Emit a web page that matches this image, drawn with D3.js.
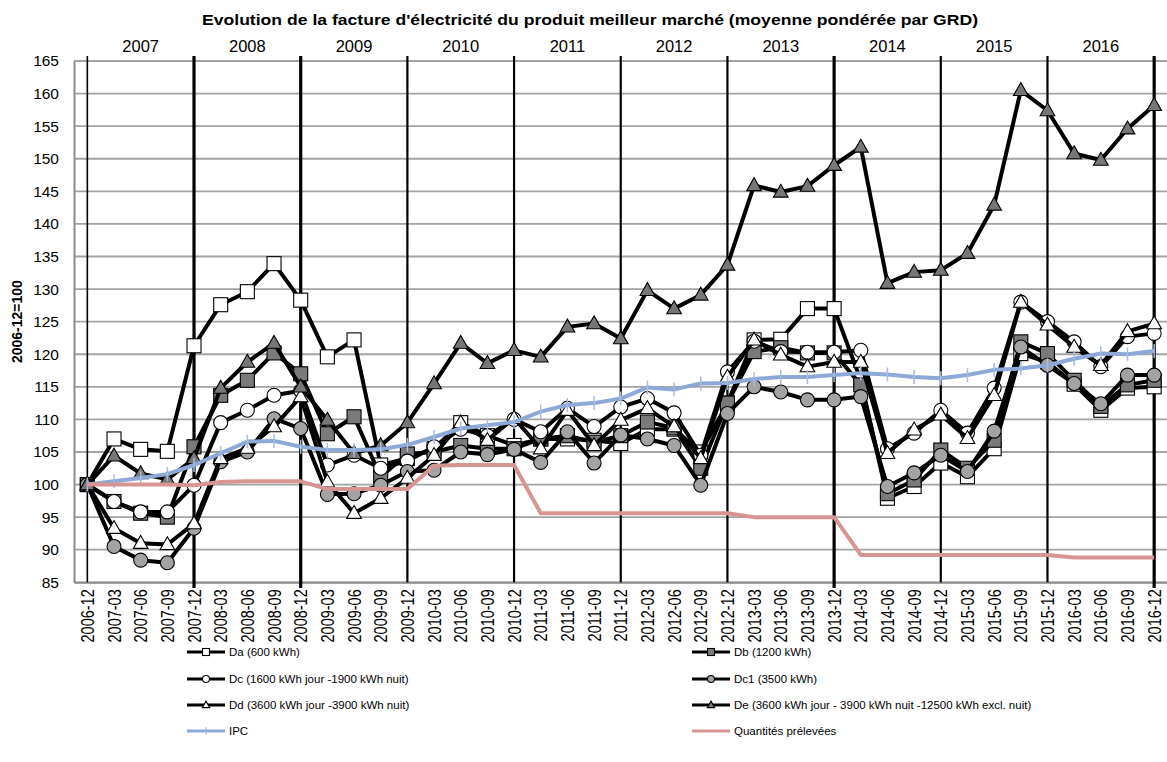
<!DOCTYPE html>
<html><head><meta charset="utf-8">
<script src="https://cdn.jsdelivr.net/npm/d3@7"></script>
<style>
html,body{margin:0;padding:0;background:#fff;}
svg{display:block;font-family:"Liberation Sans",Arial,sans-serif;}
</style></head>
<body><svg id="c" width="1167" height="762"></svg>
<script>
const categories = ["2006-12","2007-03","2007-06","2007-09","2007-12","2008-03","2008-06","2008-09","2008-12","2009-03","2009-06","2009-09","2009-12","2010-03","2010-06","2010-09","2010-12","2011-03","2011-06","2011-09","2011-12","2012-03","2012-06","2012-09","2012-12","2013-03","2013-06","2013-09","2013-12","2014-03","2014-06","2014-09","2014-12","2015-03","2015-06","2015-09","2015-12","2016-03","2016-06","2016-09","2016-12"];
const years = ["2007","2008","2009","2010","2011","2012","2013","2014","2015","2016"];
const yTicks = [85,90,95,100,105,110,115,120,125,130,135,140,145,150,155,160,165];

const Da  = [100,107,105.4,105.1,121.3,127.6,129.6,133.9,128.3,119.6,122.2,103,104,105.5,109.5,107.5,106,107,107,106.8,106.3,108.5,108.5,105,112.5,122.2,122.3,127,127,116,97.9,99.7,103.3,101.2,105.5,120.1,118.8,115.4,111.4,114.8,115];
const Db  = [100,97.4,95.6,95.0,105.8,113.7,116,120.2,117,107.8,110.4,101.2,104.7,105,106,105.5,105.5,107,107.5,106.5,107.5,109.6,108.7,102.5,112.5,120.4,121,120.2,120.2,115.3,98.6,100.7,105.3,102.5,106.8,121.9,120.1,116,112,115.3,116];
const Dc  = [100,97.4,95.8,95.8,99.9,109.5,111.4,113.7,114.4,103,104.5,102.5,103.6,105.8,108.5,107.5,110,108.1,111.7,108.9,111.9,113.2,111,104.5,117.3,122,120.4,120.3,120.3,120.6,105.5,107.9,111.4,107.9,114.8,128,125,121.9,118.1,122.7,123.2];
const Dc1 = [100,90.5,88.4,88.0,93.3,103.5,105,110.1,108.6,98.5,98.6,99.9,102,102.2,105,104.6,105.4,103.4,108.1,103.3,107.6,107,106,99.9,110.9,115,114.2,113,113,113.5,99.7,101.8,104.5,102,108.2,121.1,118.3,115.5,112.4,116.8,116.8];
const Dd  = [100,93.3,91,90.8,94,104,105.6,108.9,113.5,100.4,95.6,97.9,101,104.5,109.5,106.8,110.2,105.5,111.4,106,109.9,111.7,108.9,104,116.5,122.2,119.9,118.1,118.8,118.8,104.8,108.4,110.7,107.1,113.7,128,124.5,121.1,118.3,123.5,124.7];
const De  = [100,104.4,101.7,100.8,104,114.8,118.8,121.7,115,109.9,104.8,106,109.5,115.5,121.7,118.6,120.6,119.6,124.2,124.7,122.4,129.8,127,129.1,133.7,145.9,144.9,145.8,149,151.8,130.9,132.6,132.9,135.5,142.9,160.5,157.4,150.8,149.8,154.6,158.2];
const IPC = [100,100.5,101,101.6,103,104.8,106.6,106.7,105.8,105.3,105.3,105.4,106.1,107.3,108.6,109.1,109.6,111.2,112.2,112.5,113.2,114.9,114.6,115.5,115.6,116.2,116.5,116.5,116.8,117.1,116.9,116.5,116.3,116.8,117.6,117.8,118.3,119.3,120.1,120,120.5];
const Quant = [100,100,100,100,99.9,100.4,100.5,100.5,100.5,99.3,99.3,99.3,99.3,102.9,103,103,103,95.6,95.6,95.6,95.6,95.6,95.6,95.6,95.6,95,95,95,95,89.2,89.2,89.2,89.2,89.2,89.2,89.2,89.2,88.8,88.8,88.8,88.8];

const seriesNames = ["Da (600 kWh)","Db (1200 kWh)","Dc (1600 kWh jour -1900 kWh nuit)","Dc1 (3500 kWh)","Dd (3600 kWh jour -3900 kWh nuit)","De (3600 kWh jour - 3900 kWh nuit -12500 kWh excl. nuit)","IPC","Quantités prélevées"];

const title = "Evolution de la facture d'électricité du produit meilleur marché (moyenne pondérée par GRD)";
const yTitle = "2006-12=100";

// ---------- drawing ----------
const svg = d3.select("#c");
const L = 74, R = 1167.5, T = 61, B = 582.3;
const x = d3.scaleBand().domain(categories).range([L, R]).paddingInner(0).paddingOuter(0);
const cx = c => x(c) + x.bandwidth()/2;
const y = d3.scaleLinear().domain([85,165]).range([B, T]);

// gridlines
svg.append("g").selectAll("line").data(yTicks).join("line")
  .attr("x1", L).attr("x2", R).attr("y1", d=>y(d)).attr("y2", d=>y(d))
  .attr("stroke", "#a3a3a3").attr("stroke-width", 1.8);

// axes
const yAxis = svg.append("g").attr("transform", `translate(${L},0)`)
  .call(d3.axisLeft(y).tickValues(yTicks).tickSize(0).tickPadding(15).tickFormat(d3.format("d")));
yAxis.select(".domain").attr("stroke", "#8c8c8c").attr("stroke-width", 2);
yAxis.selectAll("text").attr("font-size", 15.5).attr("fill", "#000").attr("font-family", "Liberation Sans, Arial, sans-serif");

const xAxis = svg.append("g").attr("transform", `translate(0,${B})`)
  .call(d3.axisBottom(x).tickSize(0).tickPadding(0));
xAxis.select(".domain").attr("stroke", "#8c8c8c").attr("stroke-width", 2);
xAxis.selectAll("text")
  .attr("font-size", 14.5).attr("fill", "#000").attr("font-family", "Liberation Sans, Arial, sans-serif")
  .attr("text-anchor", "end").attr("dy", null)
  .attr("transform", "translate(6.5,7) rotate(-90) scale(1,1.22)");

// year separator lines
const decIdx = categories.map((c,i)=>i).filter(i => categories[i].endsWith("-12"));
const heavy = new Set(["2007-12","2008-12","2013-12","2016-12"]);
svg.append("g").selectAll("line").data(decIdx).join("line")
  .attr("x1", i=>cx(categories[i])).attr("x2", i=>cx(categories[i]))
  .attr("y1", 56).attr("y2", i=> heavy.has(categories[i]) ? 588 : B)
  .attr("stroke", "#000").attr("stroke-width", i => heavy.has(categories[i]) ? 3.2 : (i===0?1.6:2.2));

// year labels
svg.append("g").selectAll("text").data(years).join("text")
  .attr("x", (d,i)=>(cx(categories[i*4]) + cx(categories[i*4+4]))/2)
  .attr("y", 52).attr("text-anchor", "middle").attr("font-size", 16.5).text(d=>d);

// title
svg.append("text").attr("x", 590).attr("y", 25).attr("text-anchor","middle")
  .attr("font-size", 15).attr("font-weight","bold")
  .attr("textLength", 776).attr("lengthAdjust","spacingAndGlyphs").text(title);
svg.append("text").attr("transform", `translate(22,${(T+B)/2}) rotate(-90)`)
  .attr("text-anchor","middle").attr("font-size", 14).attr("font-weight","bold").text(yTitle);

// series
const line = d3.line().x((d,i)=>cx(categories[i])).y(d=>y(d));
const defs = [
  {v:Da,  m:"square",   fill:"#fff"},
  {v:Db,  m:"square",   fill:"#7a7a7a"},
  {v:Dc,  m:"circle",   fill:"#fff"},
  {v:Dc1, m:"circle",   fill:"#a3a3a3"},
  {v:Dd,  m:"triangle", fill:"#fff"},
  {v:De,  m:"triangle", fill:"#777777"}
];
function marker(g, type, fill, px, py, s) {
  if (type === "square") {
    g.append("rect").attr("x", px-s/2).attr("y", py-s/2).attr("width", s).attr("height", s)
      .attr("fill", fill).attr("stroke", "#000").attr("stroke-width", 1.1);
  } else if (type === "circle") {
    g.append("circle").attr("cx", px).attr("cy", py).attr("r", s/2)
      .attr("fill", fill).attr("stroke", "#000").attr("stroke-width", 1.1);
  } else {
    const h = s*0.92, w = s*1.05;
    g.append("path").attr("d", `M${px},${py-h*0.6}L${px+w/2},${py+h*0.4}L${px-w/2},${py+h*0.4}Z`)
      .attr("fill", fill).attr("stroke", "#000").attr("stroke-width", 1.1);
  }
}
const sg = svg.append("g");
defs.forEach(s => {
  const g = sg.append("g");
  g.append("path").attr("d", line(s.v)).attr("fill","none").attr("stroke","#000")
    .attr("stroke-width", 4).attr("stroke-linejoin","round").attr("stroke-linecap","round");
  s.v.forEach((v,i)=> marker(g, s.m, s.fill, cx(categories[i]), y(v), 14));
});
// IPC
const gi = sg.append("g");
gi.append("path").attr("d", line(IPC)).attr("fill","none").attr("stroke","#8ea9d6")
  .attr("stroke-width", 4).attr("stroke-linejoin","round");
gi.selectAll("line").data(IPC).join("line")
  .attr("x1",(d,i)=>cx(categories[i])).attr("x2",(d,i)=>cx(categories[i]))
  .attr("y1", d=>y(d)-7).attr("y2", d=>y(d)+7).attr("stroke","#a7bde2").attr("stroke-width",1.5);
// Quantités
sg.append("path").attr("d", line(Quant)).attr("fill","none").attr("stroke","#d69593")
  .attr("stroke-width", 4).attr("stroke-linejoin","round");

// legend
const leg = svg.append("g").attr("font-family", "'Liberation Sans Narrow','Arial Narrow','Liberation Sans',sans-serif").attr("font-size", 11.5);
const legRows = [652, 679, 705, 731];
const legCols = [187, 692];
const legMarkers = [
  {m:"square",fill:"#fff"},{m:"square",fill:"#7a7a7a"},
  {m:"circle",fill:"#fff"},{m:"circle",fill:"#a3a3a3"},
  {m:"triangle",fill:"#fff"},{m:"triangle",fill:"#777777"},
  {m:"ipc"},{m:"q"}
];
seriesNames.forEach((name,k)=>{
  const lx = legCols[k%2], ly = legRows[Math.floor(k/2)];
  const g = leg.append("g");
  const mk = legMarkers[k];
  if (mk.m === "ipc") {
    g.append("line").attr("x1",lx).attr("x2",lx+38).attr("y1",ly).attr("y2",ly).attr("stroke","#8ea9d6").attr("stroke-width",3);
    g.append("line").attr("x1",lx+19).attr("x2",lx+19).attr("y1",ly-4).attr("y2",ly+4).attr("stroke","#a7bde2").attr("stroke-width",1.2);
  } else if (mk.m === "q") {
    g.append("line").attr("x1",lx).attr("x2",lx+38).attr("y1",ly).attr("y2",ly).attr("stroke","#d69593").attr("stroke-width",3);
  } else {
    g.append("line").attr("x1",lx).attr("x2",lx+38).attr("y1",ly).attr("y2",ly).attr("stroke","#000").attr("stroke-width",3.2);
    marker(g, mk.m, mk.fill, lx+19, ly, 7);
  }
  g.append("text").attr("x", lx+42).attr("y", ly+4).text(name);
});
</script></body></html>
